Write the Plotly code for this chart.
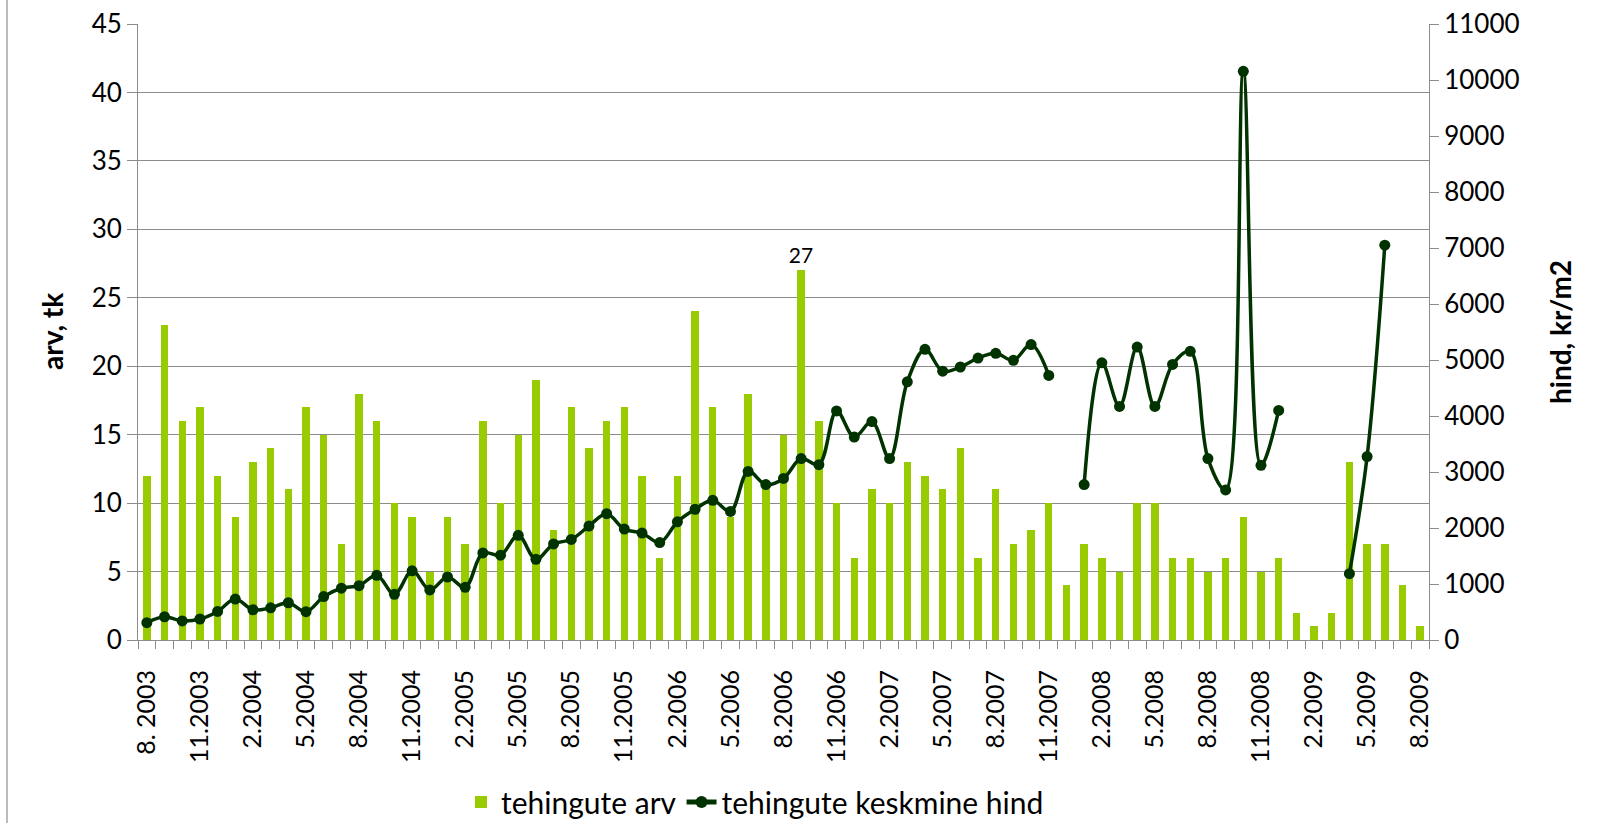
import plotly.graph_objects as go

# Monthly periods, 8.2003 ... 8.2009
months = []
for year in range(2003, 2010):
    for m in range(1, 13):
        if (year == 2003 and m < 8) or (year == 2009 and m > 8):
            continue
        months.append(f"{m}.{year}")

# Number of transactions per month (left axis, pcs)
tehingute_arv = [
    12, 23, 16, 17, 12, 9, 13, 14, 11, 17, 15, 7,
    18, 16, 10, 9, 5, 9, 7, 16, 10, 15, 19, 8,
    17, 14, 16, 17, 12, 6, 12, 24, 17, 9, 18, 11,
    15, 27, 16, 10, 6, 11, 10, 13, 12, 11, 14, 6,
    11, 7, 8, 10, 4, 7, 6, 5, 10, 10, 6, 6,
    5, 6, 9, 5, 6, 2, 1, 2, 13, 7, 7, 4,
    1,
]

# Average transaction price per month (right axis, kr/m2); None = no data
keskmine_hind = [
    310, 415, 340, 375, 510, 730, 540, 575, 665, 505, 775, 925,
    970, 1155, 815, 1235, 895, 1125, 940, 1555, 1515, 1870, 1440, 1715,
    1795, 2035, 2255, 1980, 1910, 1740, 2110, 2335, 2495, 2295, 3010, 2775,
    2885, 3240, 3130, 4090, 3625, 3900, 3240, 4610, 5190, 4800, 4875, 5035,
    5120, 4995, 5275, 4725, None, 2775, 4950, 4170, 5230, 4170, 4920, 5155,
    3240, 2680, 10155, 3120, 4100, None, None, None, 1185, 3275, 7050, None,
    None,
]

# Every third month is labelled on the x axis
tick_idx = list(range(0, len(months), 3))
tick_text = [months[i] for i in tick_idx]
tick_text[0] = tick_text[0].replace(".", ". ")

x = list(range(len(months)))
peak = max(tehingute_arv)
bar_text = [str(v) if v == peak else "" for v in tehingute_arv]

FONT = "Lato"
GRID = "#8c8c8c"
BAR_GREEN = "#99cc00"
LINE_GREEN = "#003300"

fig = go.Figure()
fig.add_trace(go.Bar(
    x=x, y=tehingute_arv, name="tehingute arv",
    marker=dict(color=BAR_GREEN, line=dict(width=0)),
    width=0.42,
    text=bar_text, textposition="outside", cliponaxis=False,
    constraintext="none",
    textfont=dict(family=FONT, size=21, color="#000000"),
))
fig.add_trace(go.Scatter(
    x=x, y=keskmine_hind, name="tehingute keskmine hind", yaxis="y2",
    mode="lines+markers", connectgaps=False,
    line=dict(color=LINE_GREEN, width=3.5, shape="spline", smoothing=1),
    marker=dict(color=LINE_GREEN, size=11),
))

L, R, T, B = 138, 1429, 24, 640
W, H = 1597, 823
pw, ph = R - L, B - T

fig.update_layout(
    width=W, height=H,
    margin=dict(l=L, r=W - R, t=T, b=H - B, pad=0, autoexpand=False),
    paper_bgcolor="white", plot_bgcolor="white",
    font=dict(family=FONT, size=26, color="#000000"),
    showlegend=True,
    legend=dict(
        orientation="h", x=(755 - L) / pw, xanchor="center",
        yref="container", y=(H - 802) / H, yanchor="middle",
        font=dict(family=FONT, size=30), itemsizing="constant",
        bgcolor="rgba(0,0,0,0)",
    ),
    bargap=0,
    xaxis=dict(
        range=[-0.5, len(months) - 0.5], automargin=False,
        tickmode="array", tickvals=tick_idx, ticktext=tick_text,
        tickangle=-90, ticks="", showgrid=False, zeroline=False,
        showline=True, linecolor=GRID, linewidth=1,
        tickfont=dict(family=FONT, size=25),
        ticklabelstandoff=19,
        minor=dict(ticks="outside", tick0=-0.5, dtick=1, ticklen=8,
                   tickcolor=GRID, tickwidth=1, showgrid=False),
    ),
    yaxis=dict(
        range=[0, 45], dtick=5, showgrid=True, gridcolor=GRID, gridwidth=1,
        automargin=False,
        zeroline=False, showline=True, linecolor=GRID, linewidth=1,
        ticks="outside", ticklen=10, tickcolor=GRID,
        tickfont=dict(family=FONT, size=26),
    ),
    yaxis2=dict(
        range=[0, 11000], dtick=1000, tickformat="d",
        overlaying="y", side="right", automargin=False,
        showgrid=False, zeroline=False, showline=True, linecolor=GRID,
        linewidth=1, ticks="outside", ticklen=9, tickcolor=GRID,
        tickfont=dict(family=FONT, size=26),
    ),
)

# Axis titles
fig.add_annotation(
    text="<b>arv, tk</b>", xref="paper", yref="paper",
    x=(52 - L) / pw, y=0.5, xanchor="center", yanchor="middle",
    textangle=-90, showarrow=False, font=dict(family=FONT, size=28),
)
fig.add_annotation(
    text="<b>hind, kr/m2</b>", xref="paper", yref="paper",
    x=(1560 - L) / pw, y=0.5, xanchor="center", yanchor="middle",
    textangle=-90, showarrow=False, font=dict(family=FONT, size=28),
)

# Left edge of the chart frame
fig.add_shape(
    type="line", xref="paper", yref="paper",
    x0=(7 - L) / pw, x1=(7 - L) / pw,
    y0=(B - H) / ph, y1=B / ph,
    line=dict(color="#a6a6a6", width=1.5),
)

fig.write_html("out.html")
